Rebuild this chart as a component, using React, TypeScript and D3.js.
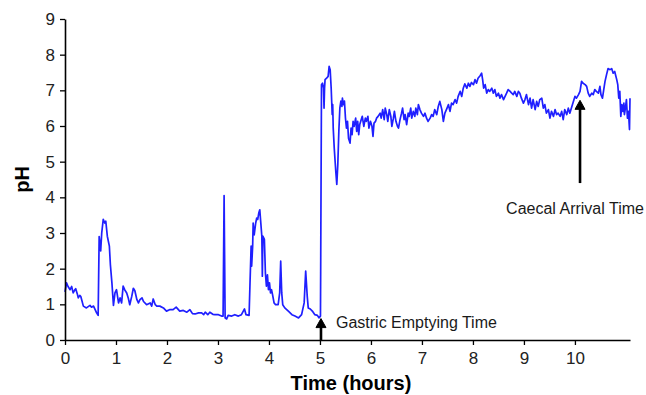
import React, { useEffect, useRef } from "react";
import * as d3 from "d3";

// pH trace, [hours, pH]
const gastricPhase: [number, number][] = [
  [0, 1.35], [0.03, 1.6], [0.06, 1.5], [0.1, 1.41], [0.13, 1.5], [0.16, 1.32], [0.19, 1.4],
  [0.21, 1.44], [0.24, 1.3], [0.26, 1.18], [0.29, 1.25], [0.31, 1.22], [0.36, 0.95], [0.42, 0.9],
  [0.49, 0.97], [0.52, 0.92], [0.56, 0.95], [0.62, 0.76], [0.65, 0.69], [0.67, 2.9], [0.7, 2.5],
  [0.72, 3.0], [0.75, 3.38], [0.78, 3.28], [0.8, 3.33], [0.83, 2.91], [0.87, 2.63], [0.89, 2.11],
  [0.92, 1.6], [0.95, 0.97], [0.98, 1.32], [1.01, 1.41], [1.05, 1.04], [1.08, 1.18], [1.11, 1.04],
  [1.14, 1.51], [1.17, 1.41], [1.21, 1.32], [1.24, 1.18], [1.27, 0.99], [1.31, 1.23], [1.34, 1.45],
  [1.37, 1.38], [1.41, 1.13], [1.44, 1.04], [1.47, 1.13], [1.51, 1.18], [1.54, 1.08], [1.6, 0.99],
  [1.67, 1.04], [1.7, 0.95], [1.73, 1.15], [1.77, 0.99], [1.8, 0.95], [1.86, 0.95], [1.93, 0.9],
  [1.99, 0.81], [2.05, 0.85], [2.12, 0.85], [2.18, 0.92], [2.25, 0.81], [2.32, 0.83], [2.39, 0.78],
  [2.45, 0.85], [2.5, 0.74], [2.55, 0.73], [2.62, 0.76], [2.68, 0.76], [2.72, 0.71], [2.75, 0.78],
  [2.8, 0.71], [2.84, 0.78], [2.9, 0.72], [2.94, 0.71], [3.01, 0.71], [3.07, 0.67], [3.1, 0.67],
  [3.12, 4.05], [3.14, 0.62], [3.17, 0.59], [3.2, 0.69], [3.27, 0.67], [3.33, 0.71], [3.4, 0.67],
  [3.46, 0.71], [3.52, 0.87], [3.55, 0.71], [3.61, 0.69], [3.63, 1.69], [3.65, 2.63], [3.66, 2.07],
  [3.68, 2.63], [3.69, 3.28], [3.71, 2.95], [3.74, 3.28], [3.76, 3.42], [3.78, 3.38], [3.8, 3.56],
  [3.82, 3.65], [3.84, 3.28], [3.86, 2.91], [3.87, 1.79], [3.88, 2.91], [3.91, 2.82], [3.93, 1.88],
  [3.95, 1.51], [3.97, 1.83], [3.99, 1.41], [4.01, 1.6], [4.03, 1.32], [4.05, 1.41], [4.07, 1.27],
  [4.1, 1.04], [4.13, 0.99], [4.18, 0.99], [4.21, 1.32], [4.23, 2.21], [4.25, 1.32], [4.27, 0.99],
  [4.31, 0.9], [4.38, 0.81], [4.45, 0.71], [4.51, 0.67], [4.58, 0.62], [4.64, 0.71], [4.69, 1.04],
  [4.72, 1.93], [4.75, 1.23], [4.77, 0.9], [4.81, 0.87], [4.85, 0.81], [4.9, 0.71], [4.95, 0.69],
  [4.98, 0.62], [5.01, 0.67],
];

const smallBowelPhase: [number, number][] = [
  [5.03, 7.16], [5.05, 7.2], [5.07, 7.06], [5.08, 6.5], [5.09, 7.06], [5.1, 7.3], [5.13, 7.34],
  [5.16, 7.39], [5.18, 7.67], [5.2, 7.58], [5.22, 7.06], [5.24, 6.32], [5.25, 6.6], [5.26, 5.94],
  [5.28, 5.38], [5.31, 4.73], [5.33, 4.36], [5.35, 4.92], [5.37, 5.85], [5.39, 6.5], [5.41, 6.7],
  [5.43, 6.55], [5.44, 6.78], [5.46, 6.6], [5.48, 6.7], [5.5, 6.22], [5.52, 5.94], [5.54, 6.13],
  [5.56, 5.66], [5.59, 5.52], [5.61, 5.94], [5.63, 5.76], [5.65, 6.13], [5.67, 5.99], [5.7, 6.22],
  [5.72, 5.85], [5.74, 6.13], [5.76, 5.76], [5.78, 6.04], [5.81, 6.18], [5.83, 6.27], [5.86, 5.99],
  [5.89, 6.22], [5.91, 6.13], [5.94, 6.27], [5.96, 5.94], [5.99, 6.13], [6.02, 5.99], [6.04, 5.71],
  [6.06, 6.08], [6.09, 6.13], [6.11, 6.22], [6.14, 6.27], [6.18, 6.36], [6.2, 6.22], [6.23, 6.46],
  [6.26, 6.18], [6.28, 6.5], [6.31, 6.32], [6.33, 6.13], [6.36, 6.46], [6.39, 6.27], [6.41, 5.99],
  [6.44, 6.22], [6.46, 6.41], [6.49, 6.13], [6.52, 5.99], [6.54, 5.94], [6.57, 6.18], [6.6, 6.36],
  [6.62, 6.5], [6.65, 6.18], [6.67, 6.32], [6.7, 6.04], [6.73, 6.36], [6.75, 6.27], [6.78, 6.5],
  [6.8, 6.22], [6.83, 6.41], [6.86, 6.27], [6.88, 6.5], [6.91, 6.32], [6.93, 6.6], [6.96, 6.46],
  [6.99, 6.36], [7.03, 6.27], [7.06, 6.36], [7.09, 6.22], [7.12, 6.13], [7.16, 6.22], [7.19, 6.32],
  [7.22, 6.27], [7.25, 6.46], [7.29, 6.32], [7.32, 6.55], [7.35, 6.69], [7.39, 6.46], [7.42, 6.13],
  [7.45, 6.36], [7.48, 6.46], [7.52, 6.6], [7.55, 6.41], [7.58, 6.64], [7.61, 6.6], [7.65, 6.74],
  [7.68, 6.64], [7.71, 6.83], [7.75, 6.97], [7.78, 6.83], [7.81, 7.06], [7.84, 7.18], [7.88, 7.06],
  [7.91, 7.2], [7.94, 7.11], [7.97, 7.22], [8.01, 7.16], [8.04, 7.3], [8.07, 7.2], [8.1, 7.34],
  [8.14, 7.41], [8.17, 7.48], [8.19, 7.3], [8.21, 7.06], [8.24, 7.16], [8.27, 6.92], [8.3, 7.02],
  [8.33, 6.97], [8.37, 7.06], [8.4, 6.92], [8.43, 7.02], [8.46, 6.83], [8.5, 6.92], [8.53, 6.78],
  [8.56, 6.88], [8.6, 6.74], [8.63, 6.83], [8.66, 6.92], [8.69, 7.02], [8.73, 6.97], [8.76, 6.92],
  [8.79, 6.88], [8.82, 6.97], [8.86, 6.83], [8.89, 6.97], [8.92, 6.92], [8.95, 6.78], [8.99, 6.64],
  [9.02, 6.74], [9.05, 6.88], [9.09, 6.6], [9.12, 6.78], [9.15, 6.5], [9.18, 6.74], [9.22, 6.46],
  [9.25, 6.69], [9.28, 6.55], [9.31, 6.74], [9.35, 6.78], [9.38, 6.5], [9.41, 6.6], [9.44, 6.36],
  [9.48, 6.46], [9.51, 6.22], [9.54, 6.41], [9.58, 6.27], [9.61, 6.46], [9.64, 6.32], [9.67, 6.36],
  [9.71, 6.27], [9.74, 6.41], [9.77, 6.18], [9.8, 6.46], [9.84, 6.32], [9.87, 6.5], [9.9, 6.36],
  [9.94, 6.55], [9.97, 6.69], [10.0, 6.83], [10.03, 6.78], [10.07, 6.88],
];

const colonPhase: [number, number][] = [
  [10.1, 6.97], [10.13, 7.25], [10.16, 7.2], [10.2, 7.16], [10.23, 7.11], [10.26, 6.92],
  [10.29, 6.83], [10.33, 6.92], [10.36, 6.88], [10.39, 7.02], [10.42, 6.97], [10.46, 6.92],
  [10.49, 7.11], [10.51, 6.88], [10.54, 6.78], [10.56, 6.97], [10.59, 7.25], [10.62, 7.44],
  [10.65, 7.61], [10.69, 7.58], [10.72, 7.61], [10.75, 7.48], [10.78, 7.53], [10.82, 7.3],
  [10.84, 7.16], [10.86, 6.78], [10.88, 6.97], [10.9, 6.27], [10.92, 6.6], [10.94, 6.41],
  [10.96, 6.64], [10.97, 6.32], [10.99, 6.5], [11.01, 6.74], [11.03, 6.22], [11.05, 6.41],
  [11.07, 5.9], [11.08, 6.78],
];

const xTicks = [0, 1, 2, 3, 4, 5, 6, 7, 8, 9, 10];
const yTicks = [0, 1, 2, 3, 4, 5, 6, 7, 8, 9];

const gastricEmptying = { hours: 5.02, tipPh: 0.6, label: "Gastric Emptying Time" };
const caecalArrival = { hours: 10.1, basePh: 4.4, tipPh: 6.72, label: "Caecal Arrival Time" };

const FONT = "'Liberation Sans', Arial, Helvetica, sans-serif";

export default function App() {
  const svgRef = useRef<SVGSVGElement>(null);

  useEffect(() => {
    const width = 646, height = 395;
    const margin = { top: 19, right: 16, bottom: 55, left: 65 };
    const svg = d3.select(svgRef.current);
    svg.selectAll("*").remove();

    const x = d3.scaleLinear().domain([0, 11.08]).range([margin.left, width - margin.right]);
    const y = d3.scaleLinear().domain([0, 9]).range([height - margin.bottom, margin.top]);

    const trace = [...gastricPhase, ...smallBowelPhase, ...colonPhase];

    const line = d3.line<[number, number]>()
      .x(d => x(d[0]))
      .y(d => y(d[1]));

    svg.append("path")
      .datum(trace)
      .attr("d", line)
      .attr("fill", "none")
      .attr("stroke", "#1f1fff")
      .attr("stroke-width", 1.7)
      .attr("stroke-linejoin", "round");

    const xAxis = svg.append("g")
      .attr("transform", `translate(0,${y(0)})`)
      .call(d3.axisBottom(x).tickValues(xTicks).tickSize(5).tickSizeOuter(0).tickPadding(7).tickFormat(d3.format("d")));

    const yAxis = svg.append("g")
      .attr("transform", `translate(${x(0)},0)`)
      .call(d3.axisLeft(y).tickValues(yTicks).tickSize(5).tickSizeOuter(0).tickPadding(5).tickFormat(d3.format("d")));

    [xAxis, yAxis].forEach(g => {
      g.attr("font-family", FONT).attr("font-size", 17);
      g.select(".domain").attr("stroke", "#000").attr("stroke-width", 1.6);
      g.selectAll(".tick line").attr("stroke", "#000").attr("stroke-width", 1.3);
      g.selectAll(".tick text").attr("fill", "#222");
    });

    svg.append("text")
      .attr("x", 351)
      .attr("y", 390)
      .attr("text-anchor", "middle")
      .attr("font-family", FONT)
      .attr("font-size", 20)
      .attr("font-weight", "bold")
      .text("Time (hours)");

    svg.append("text")
      .attr("transform", `translate(29,${(y(0) + y(9)) / 2}) rotate(-90)`)
      .attr("text-anchor", "middle")
      .attr("font-family", FONT)
      .attr("font-size", 20)
      .attr("font-weight", "bold")
      .text("pH");

    // arrows
    const arrow = (hx: number, fromY: number, toY: number) => {
      svg.append("line")
        .attr("x1", hx).attr("x2", hx)
        .attr("y1", fromY).attr("y2", toY + 6)
        .attr("stroke", "#000")
        .attr("stroke-width", 2.6);
      svg.append("path")
        .attr("d", `M${hx - 5},${toY + 9} L${hx},${toY} L${hx + 5},${toY + 9} Z`)
        .attr("fill", "#000")
        .attr("stroke", "#000")
        .attr("stroke-width", 1)
        .attr("stroke-linejoin", "miter");
    };

    arrow(x(gastricEmptying.hours), y(0), y(gastricEmptying.tipPh));
    svg.append("text")
      .attr("x", x(gastricEmptying.hours) + 15)
      .attr("y", 328)
      .attr("font-family", FONT)
      .attr("font-size", 16)
      .attr("fill", "#1a1a1a")
      .text(gastricEmptying.label);

    arrow(x(caecalArrival.hours), y(caecalArrival.basePh), y(caecalArrival.tipPh));
    svg.append("text")
      .attr("x", x(caecalArrival.hours) - 5)
      .attr("y", 214)
      .attr("text-anchor", "middle")
      .attr("font-family", FONT)
      .attr("font-size", 16)
      .attr("fill", "#1a1a1a")
      .text(caecalArrival.label);
  }, []);

  return (
    <svg
      ref={svgRef}
      width={646}
      height={395}
      style={{ position: "absolute", left: 0, top: 0, background: "#fff", display: "block" }}
    />
  );
}
